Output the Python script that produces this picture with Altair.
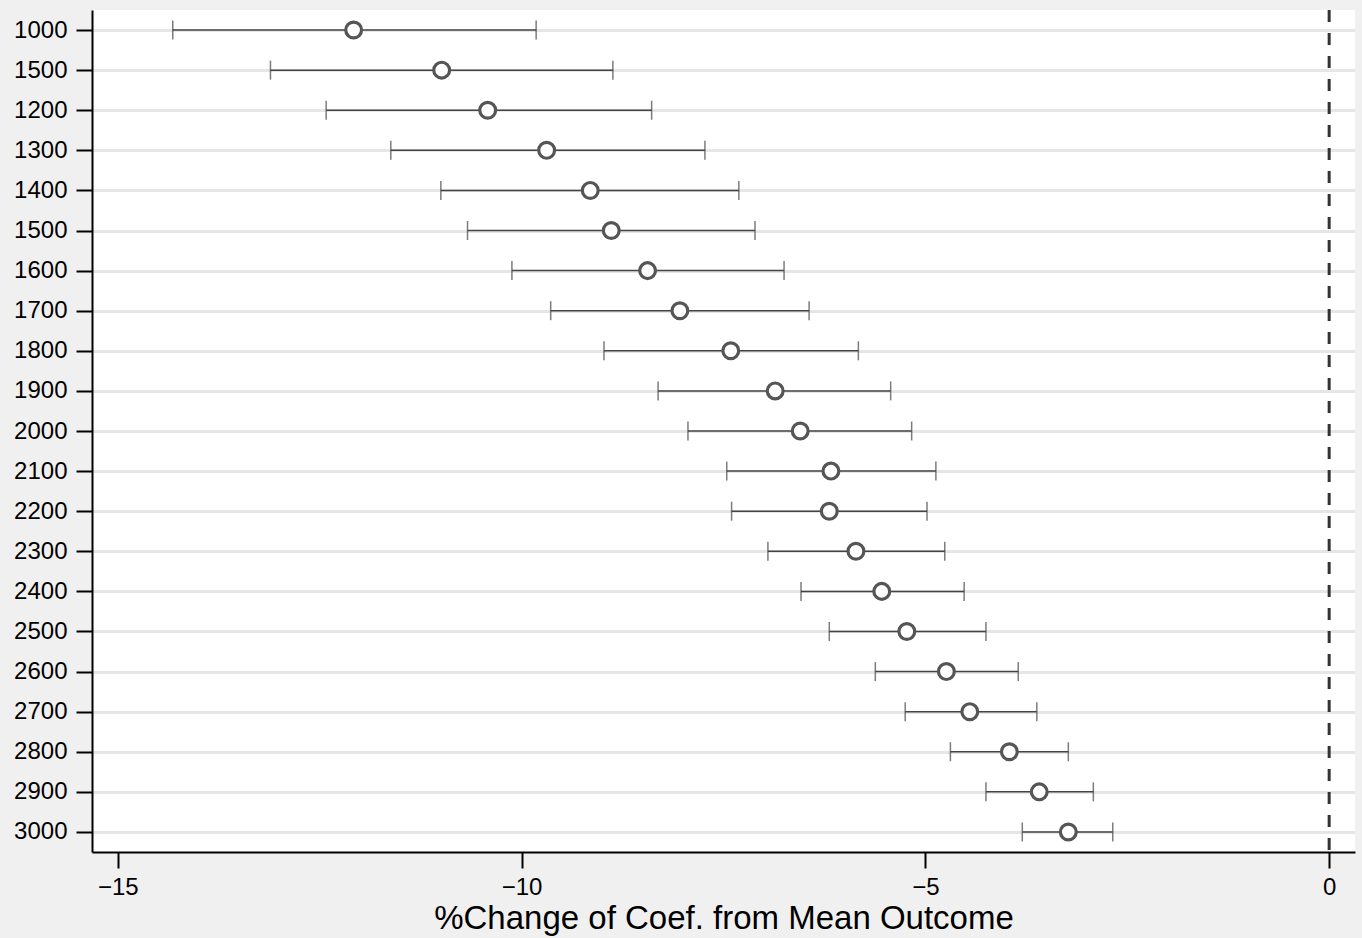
import altair as alt
import pandas as pd

labels = ["1000", "1500", "1200", "1300", "1400", "1500", "1600", "1700", "1800", "1900",
          "2000", "2100", "2200", "2300", "2400", "2500", "2600", "2700", "2800", "2900", "3000"]
coef = [-12.08, -10.99, -10.42, -9.69, -9.15, -8.89, -8.44, -8.04, -7.41, -6.86,
        -6.55, -6.17, -6.19, -5.86, -5.54, -5.23, -4.74, -4.45, -3.96, -3.59, -3.23]
lo = [-14.32, -13.11, -12.42, -11.62, -11.00, -10.67, -10.12, -9.64, -8.98, -8.31,
      -7.94, -7.46, -7.40, -6.95, -6.54, -6.19, -5.62, -5.25, -4.69, -4.25, -3.80]
hi = [-9.82, -8.87, -8.39, -7.73, -7.31, -7.11, -6.75, -6.44, -5.83, -5.43,
      -5.17, -4.87, -4.98, -4.76, -4.52, -4.25, -3.85, -3.62, -3.23, -2.92, -2.68]
x_ticks = [-15, -10, -5, 0]
x_title = "%Change of Coef. from Mean Outcome"

rows = list(range(1, len(labels) + 1))
df = pd.DataFrame({"row": rows, "label": labels, "coef": coef, "lo": lo, "hi": hi})

FONT = "Liberation Sans"
xscale = alt.Scale(domain=[-15.32, 0.32], nice=False, zero=False)
yscale = alt.Scale(domain=[0.5, len(labels) + 0.5], reverse=True, nice=False, zero=False)

label_js = "[" + ",".join(f"'{l}'" for l in labels) + "][datum.value - 1]"

yax = alt.Axis(values=rows, labelExpr=label_js, grid=True, title=None)
xax = alt.Axis(values=x_ticks, grid=False, format="d", title=x_title)

base = alt.Chart(df)

rules = base.mark_rule(color="#444444", strokeWidth=1.5).encode(
    x=alt.X("lo:Q", scale=xscale, axis=xax),
    x2="hi:Q",
    y=alt.Y("row:Q", scale=yscale, axis=yax),
)
cap_lo = base.mark_tick(orient="vertical", size=19, thickness=1.5, color="#444444").encode(
    x=alt.X("lo:Q", scale=xscale, axis=xax), y=alt.Y("row:Q", scale=yscale, axis=yax))
cap_hi = base.mark_tick(orient="vertical", size=19, thickness=1.5, color="#444444").encode(
    x=alt.X("hi:Q", scale=xscale, axis=xax), y=alt.Y("row:Q", scale=yscale, axis=yax))
zero_line = alt.Chart(pd.DataFrame({"z": [0]})).mark_rule(
    color="#333333", strokeWidth=3, strokeDash=[12, 11]).encode(
    x=alt.X("z:Q", scale=xscale, axis=xax))
points = base.mark_point(shape="circle", size=250, filled=True, fill="white", stroke="#555555",
                         strokeWidth=3.2, opacity=1).encode(
    x=alt.X("coef:Q", scale=xscale, axis=xax), y=alt.Y("row:Q", scale=yscale, axis=yax))

chart = alt.layer(zero_line, rules, cap_lo, cap_hi, points).properties(
    width=1263, height=842,
    autosize=alt.AutoSizeParams(type="none"),
    padding={"left": 92, "top": 10, "right": 7, "bottom": 86},
    background="#f0f0f0",
).configure_view(stroke=None, fill="white").configure_axis(
    domainColor="black", domainWidth=2, tickColor="black", tickWidth=2, tickSize=16,
    labelFontSize=24, labelColor="black", labelFont=FONT,
    titleFont=FONT, titleFontSize=33, titleFontWeight="normal", titleColor="black",
    gridColor="#e6e6e6", gridWidth=3,
).configure_axisY(labelPadding=9).configure_axisX(labelPadding=7, titlePadding=3)

chart.save("out.html", embed_options={"renderer": "svg", "actions": False})
